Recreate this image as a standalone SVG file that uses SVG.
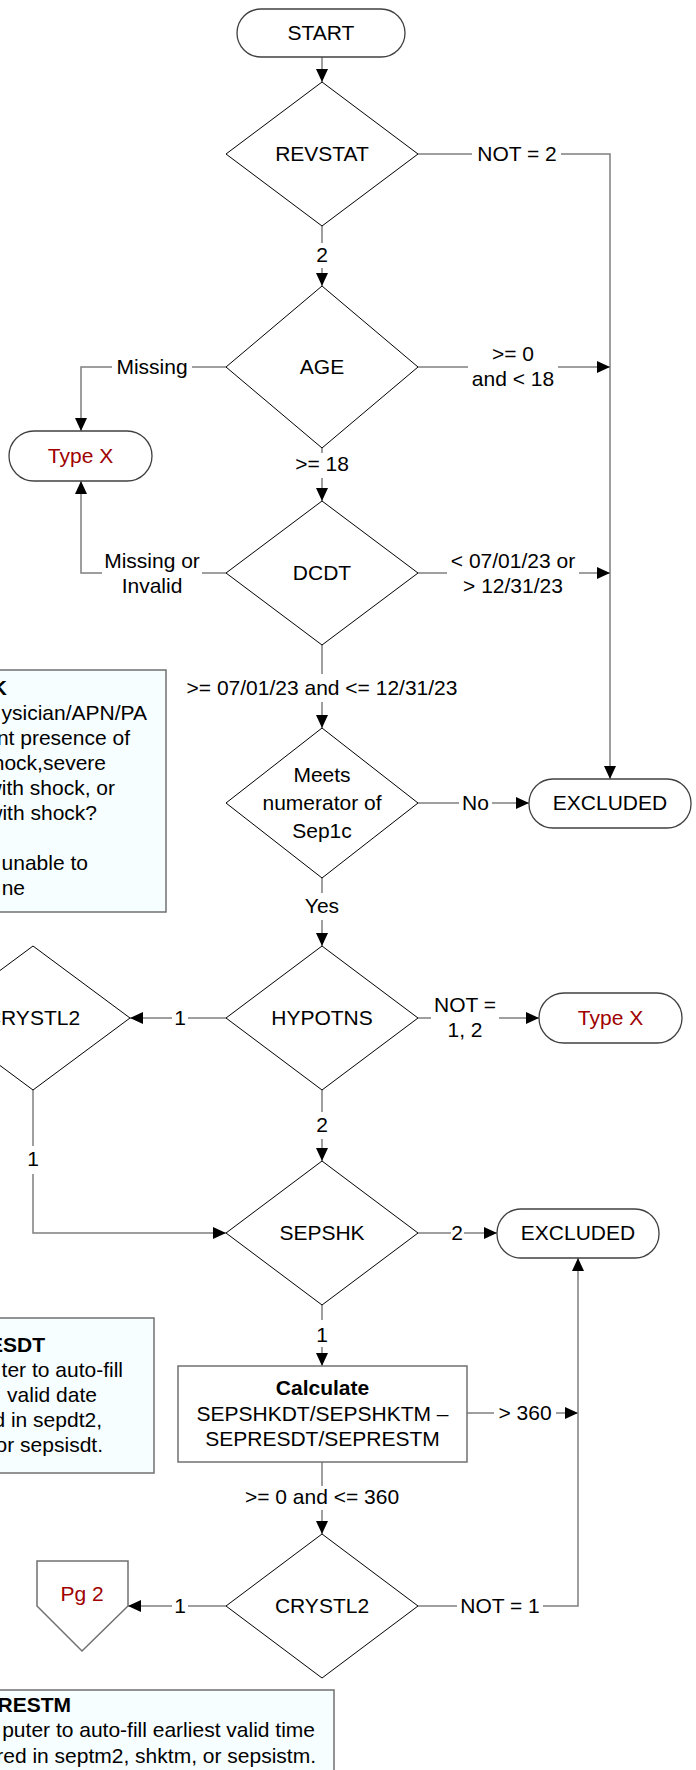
<svg xmlns="http://www.w3.org/2000/svg" width="696" height="1770" viewBox="0 0 696 1770">
<style>
.t{font-family:"Liberation Sans",Arial,sans-serif;font-size:21px;fill:#000}
.c{text-anchor:middle}
.e{text-anchor:end}
.b{font-weight:bold}
.r{fill:#A00000}
.term{fill:#fff;stroke:#404040;stroke-width:1.3}
.dia{fill:#fff;stroke:#000;stroke-width:1}
.proc{fill:#fff;stroke:#707070;stroke-width:1.5}
.note{fill:#F7FEFF;stroke:#707070;stroke-width:1.5}
.cn{fill:none;stroke:#7f7f7f;stroke-width:1.5}
</style>
<defs>
<marker id="ah" viewBox="0 0 13 12" markerWidth="13" markerHeight="12" markerUnits="userSpaceOnUse" refX="13" refY="6" orient="auto">
<path d="M0,0 L13,6 L0,12 z" fill="#000"/>
</marker>
</defs>

<g id="note-sepshk">
<rect class="note" x="-10" y="670" width="176" height="242"/>
<text class="t e b" x="7" y="695">K</text>
<text class="t e" x="147" y="720">ysician/APN/PA</text>
<text class="t e" x="130" y="745">nt presence of</text>
<text class="t e" x="106" y="770">hock,severe</text>
<text class="t e" x="115" y="795">with shock, or</text>
<text class="t e" x="97" y="820">with shock?</text>
<text class="t e" x="88" y="870">unable to</text>
<text class="t e" x="25" y="895">ne</text>
</g>

<g id="note-sepresdt">
<rect class="note" x="-10" y="1318" width="164" height="155"/>
<text class="t e b" x="45" y="1352">ESDT</text>
<text class="t e" x="123" y="1377">ter to auto-fill</text>
<text class="t e" x="97" y="1402">valid date</text>
<text class="t e" x="102" y="1427">d in sepdt2,</text>
<text class="t e" x="103" y="1452">or sepsisdt.</text>
</g>

<g id="note-seprestm">
<rect class="note" x="-10" y="1690" width="344" height="100"/>
<text class="t e b" x="71" y="1712">RESTM</text>
<text class="t e" x="315" y="1737">puter to auto-fill earliest valid time</text>
<text class="t e" x="316" y="1763">red in septm2, shktm, or sepsistm.</text>
</g>

<g id="connectors">
<path class="cn" d="M322,57 V82" marker-end="url(#ah)"/>
<path class="cn" d="M418,154 H472"/>
<text class="t c" x="517" y="161">NOT = 2</text>
<path class="cn" d="M561,154 H610 V779" marker-end="url(#ah)"/>
<path class="cn" d="M322,226 V243"/>
<text class="t c" x="322" y="262">2</text>
<path class="cn" d="M322,268 V286" marker-end="url(#ah)"/>
<path class="cn" d="M226,367 H192"/>
<text class="t c" x="152" y="374">Missing</text>
<path class="cn" d="M112,367 H81 V431" marker-end="url(#ah)"/>
<path class="cn" d="M418,367 H468"/>
<text class="t c" x="513" y="361">&gt;= 0</text>
<text class="t c" x="513" y="386">and &lt; 18</text>
<path class="cn" d="M558,367 H610" marker-end="url(#ah)"/>
<path class="cn" d="M322,448 V453"/>
<text class="t c" x="322" y="471">&gt;= 18</text>
<path class="cn" d="M322,478 V501" marker-end="url(#ah)"/>
<path class="cn" d="M226,573 H202"/>
<text class="t c" x="152" y="568">Missing or</text>
<text class="t c" x="152" y="593">Invalid</text>
<path class="cn" d="M102,573 H81 V481" marker-end="url(#ah)"/>
<path class="cn" d="M418,573 H447"/>
<text class="t c" x="513" y="568">&lt; 07/01/23 or</text>
<text class="t c" x="513" y="593">&gt; 12/31/23</text>
<path class="cn" d="M579,573 H610" marker-end="url(#ah)"/>
<path class="cn" d="M322,645 V674"/>
<text class="t c" x="322" y="695">&gt;= 07/01/23 and &lt;= 12/31/23</text>
<path class="cn" d="M322,702 V728" marker-end="url(#ah)"/>
<path class="cn" d="M418,803 H459"/>
<text class="t c" x="475.5" y="810">No</text>
<path class="cn" d="M492,803 H529" marker-end="url(#ah)"/>
<path class="cn" d="M322,878 V893"/>
<text class="t c" x="322" y="913">Yes</text>
<path class="cn" d="M322,920 V946" marker-end="url(#ah)"/>
<path class="cn" d="M226,1018 H188"/>
<text class="t c" x="180" y="1025">1</text>
<path class="cn" d="M172,1018 H130" marker-end="url(#ah)"/>
<path class="cn" d="M418,1018 H431"/>
<text class="t c" x="465" y="1012">NOT =</text>
<text class="t c" x="465" y="1037">1, 2</text>
<path class="cn" d="M499,1018 H539" marker-end="url(#ah)"/>
<path class="cn" d="M322,1090 V1112"/>
<text class="t c" x="322" y="1132">2</text>
<path class="cn" d="M322,1139 V1161" marker-end="url(#ah)"/>
<path class="cn" d="M33,1090 V1146"/>
<text class="t c" x="33" y="1166">1</text>
<path class="cn" d="M33,1174 V1233 H226" marker-end="url(#ah)"/>
<path class="cn" d="M418,1233 H451"/>
<text class="t c" x="457" y="1240">2</text>
<path class="cn" d="M464,1233 H497" marker-end="url(#ah)"/>
<path class="cn" d="M322,1305 V1320"/>
<text class="t c" x="322" y="1342">1</text>
<path class="cn" d="M322,1347 V1366" marker-end="url(#ah)"/>
<path class="cn" d="M467,1413 H494"/>
<text class="t c" x="525" y="1420">&gt; 360</text>
<path class="cn" d="M556,1413 H578" marker-end="url(#ah)"/>
<path class="cn" d="M322,1462 V1486"/>
<text class="t c" x="322" y="1504">&gt;= 0 and &lt;= 360</text>
<path class="cn" d="M322,1510 V1534" marker-end="url(#ah)"/>
<path class="cn" d="M226,1606 H188"/>
<text class="t c" x="180" y="1613">1</text>
<path class="cn" d="M172,1606 H128" marker-end="url(#ah)"/>
<path class="cn" d="M418,1606 H457"/>
<text class="t c" x="500" y="1613">NOT = 1</text>
<path class="cn" d="M543,1606 H578 V1258" marker-end="url(#ah)"/>
</g>

<g id="start">
<rect class="term" x="237" y="9" width="168" height="48" rx="24"/>
<text class="t c" x="321" y="40">START</text>
</g>
<g id="revstat">
<polygon class="dia" points="322,82 418,154 322,226 226,154"/>
<text class="t c" x="322" y="161">REVSTAT</text>
</g>
<g id="age">
<polygon class="dia" points="322,286 418,367 322,448 226,367"/>
<text class="t c" x="322" y="374">AGE</text>
</g>
<g id="typex1">
<rect class="term" x="9" y="431" width="143" height="50" rx="25"/>
<text class="t c r" x="80.5" y="463">Type X</text>
</g>
<g id="dcdt">
<polygon class="dia" points="322,501 418,573 322,645 226,573"/>
<text class="t c" x="322" y="580">DCDT</text>
</g>
<g id="meets">
<polygon class="dia" points="322,728 418,803 322,878 226,803"/>
<text class="t c" x="322" y="782">Meets</text>
<text class="t c" x="322" y="810">numerator of</text>
<text class="t c" x="322" y="838">Sep1c</text>
</g>
<g id="excluded1">
<rect class="term" x="529" y="779" width="162" height="49" rx="24"/>
<text class="t c" x="610" y="810">EXCLUDED</text>
</g>
<g id="hypotns">
<polygon class="dia" points="322,946 418,1018 322,1090 226,1018"/>
<text class="t c" x="322" y="1025">HYPOTNS</text>
</g>
<g id="crystl2-left">
<polygon class="dia" points="33,946 130,1018 33,1090 -64,1018"/>
<text class="t c" x="33" y="1025">CRYSTL2</text>
</g>
<g id="typex2">
<rect class="term" x="539" y="993" width="143" height="50" rx="25"/>
<text class="t c r" x="610.5" y="1025">Type X</text>
</g>
<g id="sepshk">
<polygon class="dia" points="322,1161 418,1233 322,1305 226,1233"/>
<text class="t c" x="322" y="1240">SEPSHK</text>
</g>
<g id="excluded2">
<rect class="term" x="497" y="1209" width="162" height="49" rx="24"/>
<text class="t c" x="578" y="1240">EXCLUDED</text>
</g>
<g id="calculate">
<rect class="proc" x="178" y="1366" width="289" height="96"/>
<text class="t c b" x="322.5" y="1395">Calculate</text>
<text class="t c" x="322.5" y="1421">SEPSHKDT/SEPSHKTM –</text>
<text class="t c" x="322.5" y="1446">SEPRESDT/SEPRESTM</text>
</g>
<g id="crystl2">
<polygon class="dia" points="322,1534 418,1606 322,1678 226,1606"/>
<text class="t c" x="322" y="1613">CRYSTL2</text>
</g>
<g id="pg2">
<polygon class="proc" points="37,1561 128,1561 128,1606 82,1651 37,1606"/>
<text class="t c r" x="82" y="1601">Pg 2</text>
</g>
</svg>
